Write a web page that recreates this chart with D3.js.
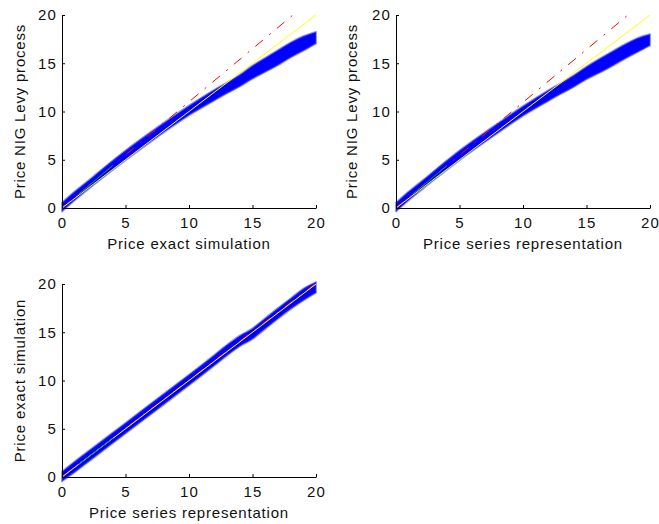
<!DOCTYPE html>
<html>
<head>
<meta charset="utf-8">
<script src="https://cdn.jsdelivr.net/npm/d3@7"></script>
<style>
  html, body { margin: 0; padding: 0; background: #fff; }
  svg { display: block; }
  .tick text { font-family: "Liberation Sans", Arial, Helvetica, sans-serif; font-size: 15px; letter-spacing: 1.2px; fill: #111; }
  .title { font-family: "Liberation Sans", Arial, Helvetica, sans-serif; font-size: 15px; letter-spacing: 0.8px; fill: #111; }
</style>
</head>
<body>
<svg id="chart" width="659" height="524"></svg>
<script>
// Shared axis ticks (0..20 on both axes)
const tickValues = [0, 5, 10, 15, 20];

// Quantile band sample positions (x in price units)
const bandX = [0, 1, 2.5, 5, 7.5, 10, 12, 13, 14, 15, 16, 17, 18, 19, 20];

// Panel 1: NIG Levy vs exact simulation — lower/upper edges of the quantile cloud
const nigExactLo = [-0.35, 0.8, 2.4, 4.95, 7.35, 9.6, 11.15, 11.9, 12.6, 13.4, 14.1, 14.8, 15.6, 16.3, 17.05];
const nigExactHi = [0.55, 1.7, 3.3, 5.95, 8.35, 10.6, 12.25, 13.0, 13.8, 14.75, 15.55, 16.35, 17.15, 17.8, 18.25];

// Panel 2: NIG Levy vs series representation
const nigSeriesLo = [-0.35, 0.8, 2.4, 4.95, 7.3, 9.55, 11.1, 11.85, 12.55, 13.35, 14.0, 14.7, 15.45, 16.15, 16.85];
const nigSeriesHi = [0.55, 1.7, 3.3, 5.95, 8.3, 10.55, 12.2, 12.95, 13.75, 14.65, 15.45, 16.2, 16.95, 17.6, 18.0];

// Panel 3: exact simulation vs series representation
const exactSeriesLo = [-0.45, 0.5, 2.0, 4.5, 7.0, 9.5, 11.55, 12.6, 13.55, 14.3, 15.35, 16.4, 17.4, 18.3, 19.1];
const exactSeriesHi = [0.55, 1.6, 3.1, 5.6, 8.1, 10.6, 12.65, 13.7, 14.65, 15.4, 16.45, 17.5, 18.5, 19.5, 20.2];

// Reference lines: [x0, x1], [y0, y1]
const identityX = [0, 20], identityY = [0, 20];          // yellow y = x
const fitExactX = [0, 20], fitExactY = [0, 22];          // red dash-dot, panel 1
const fitSeriesX = [0, 20], fitSeriesY = [0, 21.9];      // red dash-dot, panel 2
const fitCrossX = [0, 20], fitCrossY = [0, 20.1];        // red dash-dot, panel 3
const quartExactX = [1.3, 4.0], quartExactY = [1.43, 4.4];    // green quartile segment
const quartSeriesX = [1.3, 4.0], quartSeriesY = [1.42, 4.38];
const quartCrossX = [1.3, 4.0], quartCrossY = [1.3, 4.02];

const panels = [
  { id: "p1", left: 62, right: 316, top: 15, bottom: 208, titleOffset: 42,
    xLabel: "Price exact simulation", yLabel: "Price NIG Levy process",
    lo: nigExactLo, hi: nigExactHi,
    fitX: fitExactX, fitY: fitExactY, qX: quartExactX, qY: quartExactY },
  { id: "p2", left: 396, right: 650, top: 15, bottom: 208, titleOffset: 44,
    xLabel: "Price series representation", yLabel: "Price NIG Levy process",
    lo: nigSeriesLo, hi: nigSeriesHi,
    fitX: fitSeriesX, fitY: fitSeriesY, qX: quartSeriesX, qY: quartSeriesY },
  { id: "p3", left: 62, right: 316, top: 284, bottom: 477, titleOffset: 42,
    xLabel: "Price series representation", yLabel: "Price exact simulation",
    lo: exactSeriesLo, hi: exactSeriesHi,
    fitX: fitCrossX, fitY: fitCrossY, qX: quartCrossX, qY: quartCrossY }
];

const svg = d3.select("#chart");
const defs = svg.append("defs");

panels.forEach(p => {
  const x = d3.scaleLinear().domain([0, 20]).range([p.left, p.right]);
  const y = d3.scaleLinear().domain([0, 20]).range([p.bottom, p.top]);
  const g = svg.append("g");

  // Clip for the reference lines (limited to axes box)
  defs.append("clipPath").attr("id", "clip-" + p.id)
    .append("rect")
    .attr("x", p.left).attr("y", p.top)
    .attr("width", p.right - p.left).attr("height", p.bottom - p.top);

  // Quantile cloud
  const band = bandX.map((v, i) => ({ x: v, lo: p.lo[i], hi: p.hi[i] }));
  const area = d3.area()
    .x(d => x(d.x)).y0(d => y(d.lo)).y1(d => y(d.hi))
    .curve(d3.curveMonotoneX);
  g.append("path").datum(band)
    .attr("d", area)
    .attr("fill", "#0000ff")
    .attr("stroke", "rgba(50,50,255,0.5)")
    .attr("stroke-width", 2)
    .attr("stroke-linejoin", "round");

  const line = d3.line().x(d => x(d[0])).y(d => y(d[1]));
  const lines = g.append("g").attr("clip-path", `url(#clip-${p.id})`);

  // fitted quantile line (extended)
  lines.append("path")
    .datum(p.fitX.map((v, i) => [v, p.fitY[i]]))
    .attr("d", line).attr("fill", "none")
    .attr("stroke", "#ff0000").attr("stroke-width", 1)
    .attr("stroke-dasharray", "10,8,2,8");

  // y = x reference
  lines.append("path")
    .datum(identityX.map((v, i) => [v, identityY[i]]))
    .attr("d", line).attr("fill", "none")
    .attr("stroke", "#ffff00").attr("stroke-width", 1);

  // quartile segment
  lines.append("path")
    .datum(p.qX.map((v, i) => [v, p.qY[i]]))
    .attr("d", line).attr("fill", "none")
    .attr("stroke", "#00aa00").attr("stroke-width", 1);

  // Axes with inward ticks
  const xAxis = d3.axisBottom(x).tickValues(tickValues)
    .tickSizeInner(-3).tickSizeOuter(0).tickPadding(9);
  const yAxis = d3.axisLeft(y).tickValues(tickValues)
    .tickSizeInner(-3).tickSizeOuter(0).tickPadding(5);

  const gx = svg.append("g").attr("transform", `translate(0,${p.bottom})`).call(xAxis);
  const gy = svg.append("g").attr("transform", `translate(${p.left},0)`).call(yAxis);
  [gx, gy].forEach(a => {
    a.select(".domain").attr("stroke", "#000").attr("stroke-width", 1);
    a.selectAll(".tick line").attr("stroke", "#000");
  });

  // Axis titles
  svg.append("text").attr("class", "title")
    .attr("x", (p.left + p.right) / 2).attr("y", p.bottom + 41)
    .attr("text-anchor", "middle")
    .text(p.xLabel);
  svg.append("text").attr("class", "title")
    .attr("transform", `translate(${p.left - p.titleOffset + 5},${(p.top + p.bottom) / 2}) rotate(-90)`)
    .attr("text-anchor", "middle")
    .text(p.yLabel);
});
</script>
</body>
</html>
